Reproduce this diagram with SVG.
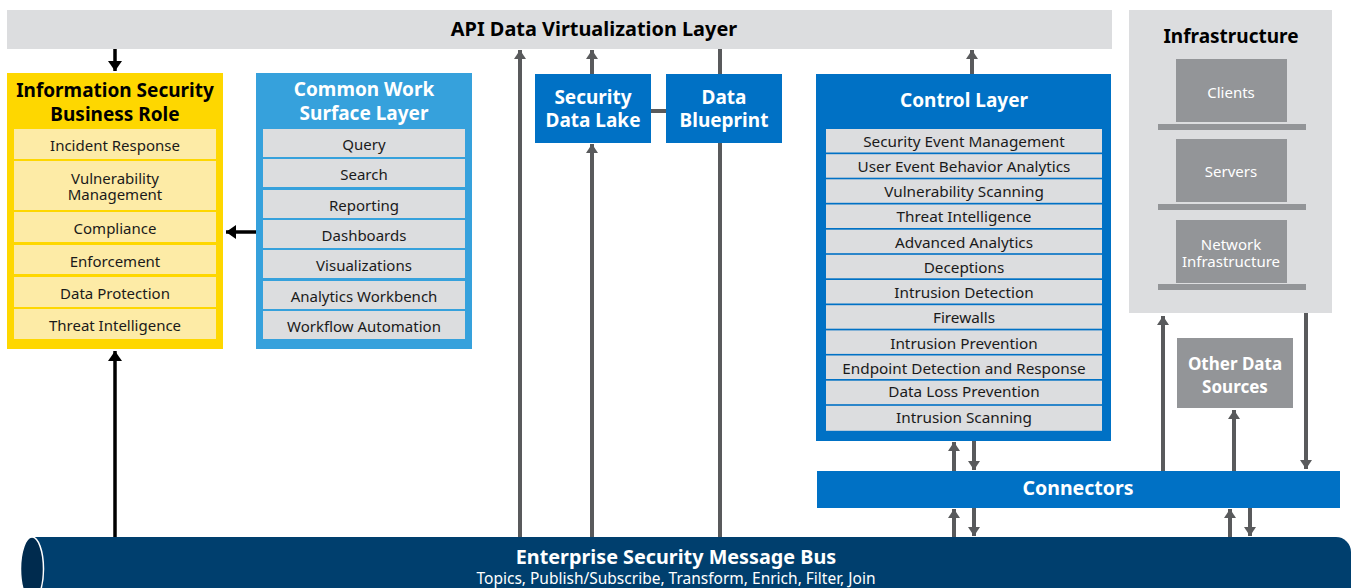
<svg xmlns="http://www.w3.org/2000/svg" width="1351" height="588" viewBox="0 0 1351 588">
<style>
text{font-family:"Noto Sans","Open Sans","Liberation Sans",sans-serif;text-anchor:middle;dominant-baseline:central}
.t{font-size:19px;font-weight:bold}
.tw{font-size:19px;font-weight:bold;fill:#fff}
.i{font-size:15px;fill:#1a1a1a}
.c{font-size:15.3px;fill:#1a1a1a}
.iw{font-size:15px;fill:#fff}
.gray{fill:#dcdddf}
.ylt{fill:#fdeba6}
.blue{fill:#0071c5}
.gbox{fill:#939598}
.g{stroke:#595a5c;stroke-width:4;fill:none}
.k{stroke:#000;stroke-width:3.5;fill:none}
</style>
<defs>
<marker id="ag" markerUnits="userSpaceOnUse" markerWidth="14" markerHeight="12" refX="9" refY="6" orient="auto">
<path d="M0,0 L9,6 L0,12 Z" fill="#595a5c"/>
</marker>
<marker id="ak" markerUnits="userSpaceOnUse" markerWidth="14" markerHeight="14" refX="10" refY="7" orient="auto">
<path d="M0,0 L10,7 L0,14 Z" fill="#000"/>
</marker>
</defs>

<g id="api-layer">
<rect x="7" y="10" width="1105" height="39" class="gray"/>
<text x="594" y="28" class="t" style="font-size:19.9px">API Data Virtualization Layer</text>
</g>

<g id="infrastructure">
<rect x="1129" y="10" width="203" height="303" class="gray"/>
<text x="1231" y="36" class="t">Infrastructure</text>
<rect x="1176" y="59" width="111" height="63" class="gbox"/>
<rect x="1158" y="124" width="148" height="6" class="gbox"/>
<text x="1231" y="92" class="iw">Clients</text>
<rect x="1176" y="139" width="111" height="63" class="gbox"/>
<rect x="1158" y="204" width="148" height="6" class="gbox"/>
<text x="1231" y="171" class="iw">Servers</text>
<rect x="1176" y="220" width="111" height="63" class="gbox"/>
<rect x="1158" y="284" width="148" height="6" class="gbox"/>
<text x="1231" y="244" class="iw">Network</text>
<text x="1231" y="261" class="iw">Infrastructure</text>
</g>

<g id="connectors">
<line x1="115" y1="49" x2="115" y2="71" class="k" marker-end="url(#ak)"/>
<line x1="115" y1="537" x2="115" y2="351" class="k" marker-end="url(#ak)"/>
<line x1="256" y1="232" x2="226" y2="232" class="k" marker-end="url(#ak)"/>
<line x1="520" y1="537" x2="520" y2="50" class="g" marker-end="url(#ag)"/>
<line x1="592" y1="537" x2="592" y2="144" class="g" marker-end="url(#ag)"/>
<line x1="592" y1="74" x2="592" y2="50" class="g" marker-end="url(#ag)"/>
<line x1="651" y1="111" x2="666" y2="111" class="g"/>
<line x1="720" y1="49" x2="720" y2="74" class="g"/>
<line x1="720" y1="143" x2="720" y2="537" class="g"/>
<line x1="972" y1="74" x2="972" y2="50" class="g" marker-end="url(#ag)"/>
<line x1="954" y1="471" x2="954" y2="442" class="g" marker-end="url(#ag)"/>
<line x1="974" y1="441" x2="974" y2="470" class="g" marker-end="url(#ag)"/>
<line x1="954" y1="537" x2="954" y2="509" class="g" marker-end="url(#ag)"/>
<line x1="974" y1="508" x2="974" y2="536" class="g" marker-end="url(#ag)"/>
<line x1="1230" y1="537" x2="1230" y2="509" class="g" marker-end="url(#ag)"/>
<line x1="1250" y1="508" x2="1250" y2="536" class="g" marker-end="url(#ag)"/>
<line x1="1163" y1="471" x2="1163" y2="316" class="g" marker-end="url(#ag)"/>
<line x1="1234" y1="471" x2="1234" y2="410" class="g" marker-end="url(#ag)"/>
<line x1="1306" y1="313" x2="1306" y2="469" class="g" marker-end="url(#ag)"/>
</g>

<g id="business-role">
<rect x="7" y="73" width="216" height="276" fill="#fed700"/>
<text x="115" y="90" class="t">Information Security</text>
<text x="115" y="114" class="t">Business Role</text>
<rect x="14" y="129" width="202" height="30" class="ylt"/>
<text x="115" y="145" class="i">Incident Response</text>
<rect x="14" y="161" width="202" height="49" class="ylt"/>
<text x="115" y="178" class="i">Vulnerability</text>
<text x="115" y="194" class="i">Management</text>
<rect x="14" y="212" width="202" height="30" class="ylt"/>
<text x="115" y="228" class="i">Compliance</text>
<rect x="14" y="245" width="202" height="29" class="ylt"/>
<text x="115" y="261" class="i">Enforcement</text>
<rect x="14" y="277" width="202" height="30" class="ylt"/>
<text x="115" y="293" class="i">Data Protection</text>
<rect x="14" y="309" width="202" height="30" class="ylt"/>
<text x="115" y="325" class="i">Threat Intelligence</text>
</g>

<g id="work-surface">
<rect x="256" y="73" width="216" height="276" fill="#36a1dc"/>
<text x="364" y="89" class="tw">Common Work</text>
<text x="364" y="113" class="tw">Surface Layer</text>
<rect x="263" y="129" width="202" height="28" class="gray"/>
<text x="364" y="144" class="i">Query</text>
<rect x="263" y="159" width="202" height="28" class="gray"/>
<text x="364" y="174" class="i">Search</text>
<rect x="263" y="190" width="202" height="28" class="gray"/>
<text x="364" y="205" class="i">Reporting</text>
<rect x="263" y="220" width="202" height="28" class="gray"/>
<text x="364" y="235" class="i">Dashboards</text>
<rect x="263" y="250" width="202" height="28" class="gray"/>
<text x="364" y="265" class="i">Visualizations</text>
<rect x="263" y="281" width="202" height="28" class="gray"/>
<text x="364" y="296" class="i">Analytics Workbench</text>
<rect x="263" y="311" width="202" height="28" class="gray"/>
<text x="364" y="326" class="i">Workflow Automation</text>
</g>

<g id="data-lake">
<rect x="535" y="74" width="116" height="69" class="blue"/>
<text x="593" y="97" class="tw">Security</text>
<text x="593" y="120" class="tw">Data Lake</text>
</g>

<g id="data-blueprint">
<rect x="666" y="74" width="116" height="69" class="blue"/>
<text x="724" y="97" class="tw">Data</text>
<text x="724" y="120" class="tw">Blueprint</text>
</g>

<g id="control-layer">
<rect x="816" y="74" width="295" height="367" class="blue"/>
<text x="964" y="100" class="tw">Control Layer</text>
<rect x="826" y="129" width="276" height="23.5" class="gray"/>
<text x="964" y="141" class="c">Security Event Management</text>
<rect x="826" y="154.2" width="276" height="23.5" class="gray"/>
<text x="964" y="166" class="c">User Event Behavior Analytics</text>
<rect x="826" y="179.3" width="276" height="23.5" class="gray"/>
<text x="964" y="191" class="c">Vulnerability Scanning</text>
<rect x="826" y="204.5" width="276" height="23.5" class="gray"/>
<text x="964" y="216" class="c">Threat Intelligence</text>
<rect x="826" y="229.7" width="276" height="23.5" class="gray"/>
<text x="964" y="241.5" class="c">Advanced Analytics</text>
<rect x="826" y="254.8" width="276" height="23.5" class="gray"/>
<text x="964" y="267" class="c">Deceptions</text>
<rect x="826" y="280" width="276" height="23.5" class="gray"/>
<text x="964" y="292" class="c">Intrusion Detection</text>
<rect x="826" y="305.2" width="276" height="23.5" class="gray"/>
<text x="964" y="317" class="c">Firewalls</text>
<rect x="826" y="330.4" width="276" height="23.5" class="gray"/>
<text x="964" y="343" class="c">Intrusion Prevention</text>
<rect x="826" y="355.5" width="276" height="23.5" class="gray"/>
<text x="964" y="368" class="c">Endpoint Detection and Response</text>
<rect x="826" y="380.7" width="276" height="23.5" class="gray"/>
<text x="964" y="391" class="c">Data Loss Prevention</text>
<rect x="826" y="405.8" width="276" height="25" class="gray"/>
<text x="964" y="417" class="c">Intrusion Scanning</text>
</g>

<g id="other-sources">
<rect x="1177" y="338" width="116" height="70" class="gbox"/>
<text x="1235" y="363" class="tw" style="font-size:17px">Other Data</text>
<text x="1235" y="386" class="tw" style="font-size:17px">Sources</text>
</g>

<g id="connectors-bar">
<rect x="817" y="471" width="523" height="37" class="blue"/>
<text x="1078" y="487" class="tw" style="font-size:19.5px">Connectors</text>
</g>

<g id="message-bus">
<path d="M32,537 H1336 A15,15 0 0 1 1351,552 V600 H32 Z" fill="#003f6e"/>
<ellipse cx="32" cy="569" rx="11.5" ry="32" fill="#002b4e" stroke="#fff" stroke-width="1.5"/>
<text x="676" y="556" class="tw" style="font-size:19.8px">Enterprise Security Message Bus</text>
<text x="676" y="578" class="iw" style="font-size:15.5px">Topics, Publish/Subscribe, Transform, Enrich, Filter, Join</text>
</g>
</svg>
